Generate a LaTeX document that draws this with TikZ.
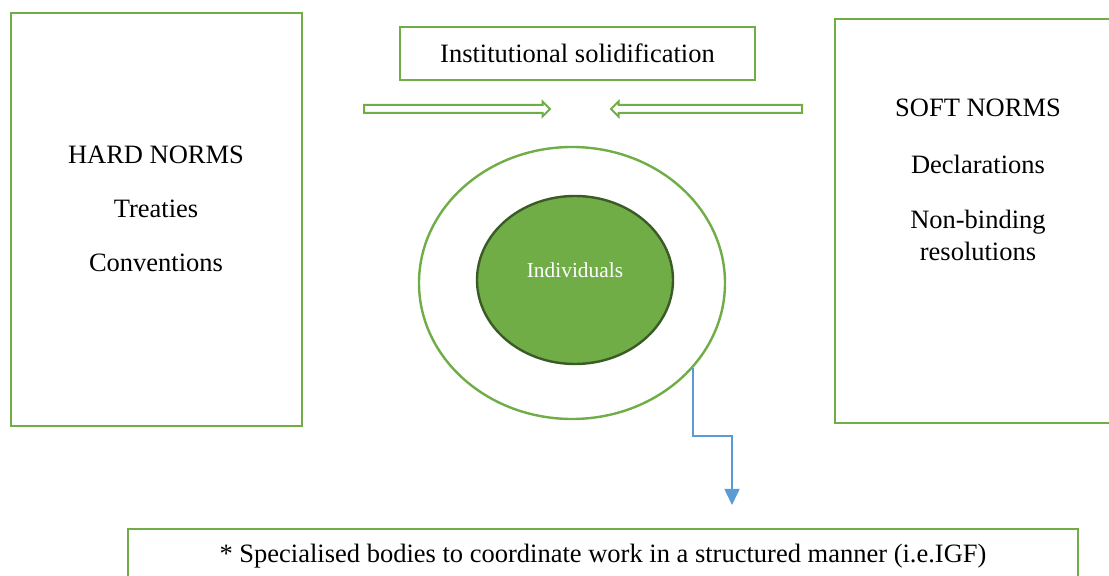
\documentclass[tikz,border=0pt]{standalone}
\usepackage{fontspec}
\setmainfont{Liberation Serif}
\usetikzlibrary{arrows.meta,shapes.geometric,shapes.arrows}
\definecolor{normgreen}{HTML}{70AD47}
\definecolor{coregreen}{HTML}{3A5A26}
\definecolor{linkblue}{HTML}{5B9BD5}
\tikzset{
  normbox/.style={draw=normgreen,line width=1.2pt,fill=white,inner sep=0pt},
  normtext/.style={font=\fontsize{13.25}{16}\selectfont},
  push/.style={single arrow,draw=normgreen,line width=1pt,inner sep=1.5pt,
    minimum width=6.5pt,single arrow head extend=1.75pt},
}
\begin{document}
\begin{tikzpicture}[x=0.5pt,y=-0.5pt]
  \useasboundingbox (0,0) rectangle (1109,576);
  % norm boxes
  \begin{scope}[every node/.style={normbox,normtext}]
    \node[minimum width=145.5pt,minimum height=206.5pt] (hard) at (156.5,219.5) {};
    \node[minimum width=139pt,minimum height=202pt] (soft) at (974,221) {};
    \node[minimum width=177.5pt,minimum height=26.5pt] (solid) at (577.5,53.5) {Institutional solidification};
    \node[minimum width=475pt,minimum height=27pt] (bodies) at (603,556) {* Specialised bodies to coordinate work in a structured manner (i.e.IGF)};
  \end{scope}
  % texts
  \begin{scope}[every node/.style={normtext}]
    \node (hardt) at (156,155) {HARD NORMS};
    \node (treaty) at (156,209) {Treaties};
    \node (conv) at (156,263) {Conventions};
    \node (softt) at (978,108) {SOFT NORMS};
    \node (decl) at (978,164) {Declarations};
    \node[align=center] (nonb) at (978,235) {Non-binding\\resolutions};
  \end{scope}
  % circles
  \node[ellipse,draw=normgreen,line width=1.2pt,fill=white,minimum width=153pt,minimum height=136pt] (outer) at (572,283) {};
  \node[ellipse,draw=coregreen,line width=1.2pt,fill=normgreen,minimum width=98pt,minimum height=84pt] (indiv) at (575,280) {};
  \node[text=white,font=\fontsize{10.7}{13}\selectfont] (indivt) at (575,270) {Individuals};
  % arrows
  \node[push,minimum height=93pt] (lpush) at (455,109) {};
  \node[push,minimum height=95.5pt,shape border rotate=180] (rpush) at (708.5,109) {};
  \coordinate (knee) at (732,436);
  \coordinate (tip) at (732,505);
  \draw[linkblue,line width=0.8pt,-{Triangle[width=7.5pt,length=8pt]}] (outer.-35) |- (knee) -- (tip);
\end{tikzpicture}
\end{document}
